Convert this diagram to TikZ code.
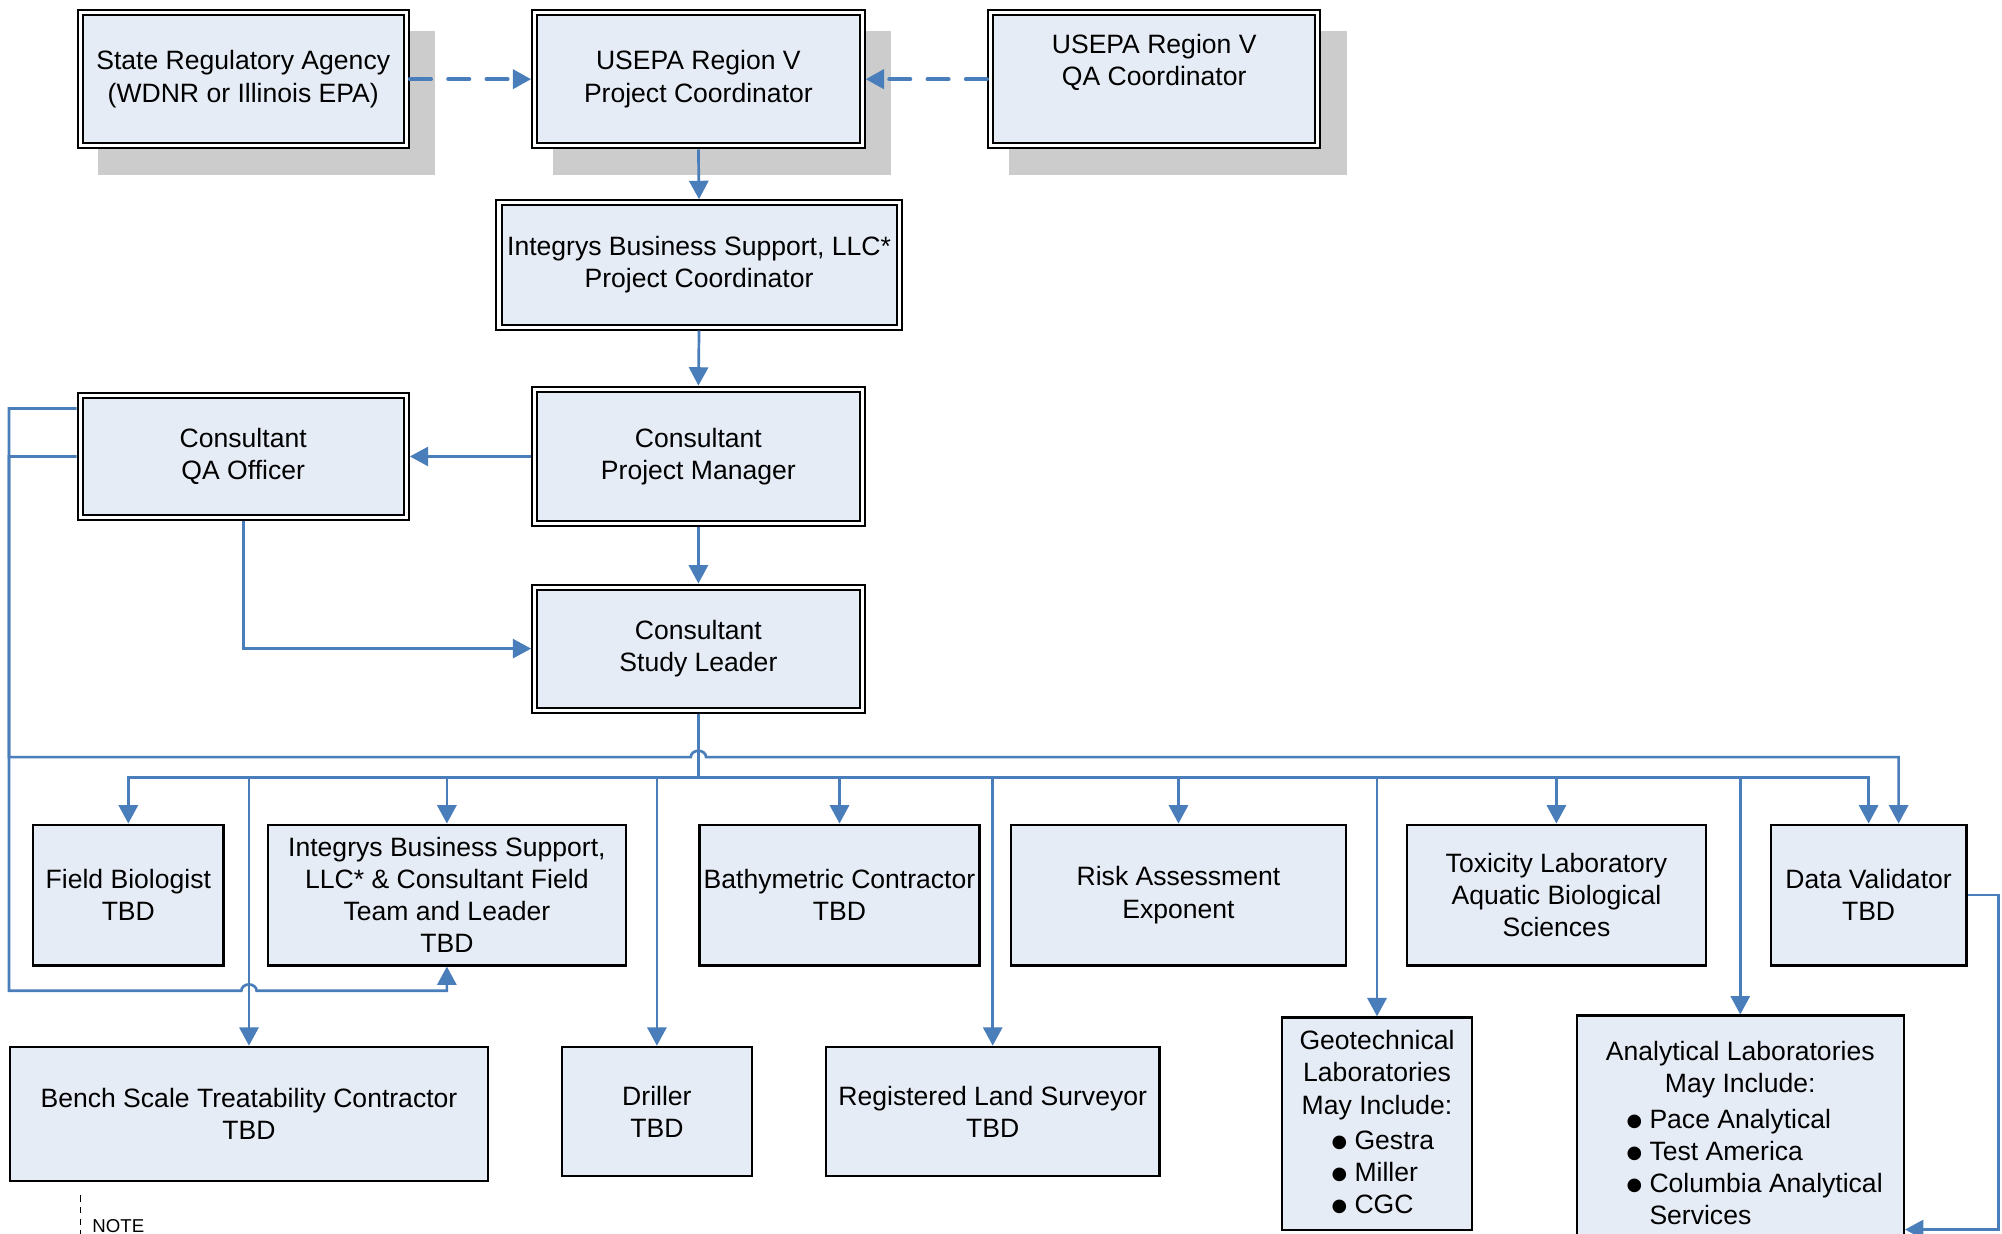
\documentclass[tikz,border=0pt]{standalone}
\usepackage{fontspec}
\setmainfont{Liberation Sans}
\newfontfamily\dejavu{DejaVu Sans}
\usetikzlibrary{arrows.meta,backgrounds}
\definecolor{lblue}{HTML}{4A7EBB}
\definecolor{boxfill}{HTML}{E6ECF6}
\definecolor{shadowgray}{HTML}{CCCCCC}
\newcommand\mainsize{\fontsize{10.4}{12.6}\selectfont}
\newcommand\bul{\makebox[9pt][l]{\raisebox{0.7pt}{\fontsize{7}{7}\selectfont\dejavu ●}}}
\begin{document}
\begin{tikzpicture}[
  x=0.5pt, y=-0.5pt,
  conn/.style={draw=lblue, line width=1.05pt, -{Triangle[length=7.2pt,width=7.5pt]}},
  dconn/.style={conn, line width=1.5pt, line cap=round, dash pattern=on 8.3pt off 6.7pt},
  dbox/.style={draw=black, line width=0.8pt, double=white, double distance=1.2pt,
    fill=boxfill, outer sep=1.4pt, inner sep=1pt, align=center, font=\mainsize},
  sbox/.style={draw=black, line width=0.9pt, fill=boxfill, inner sep=1pt,
    align=center, font=\mainsize},
  txt/.style={inner sep=0pt, align=center, font=\mainsize},
  shadowbox/.style={fill=shadowgray}
]
\useasboundingbox (0,0) rectangle (1568,966);

% top row
\node[dbox, minimum width=127.7pt, minimum height=52.2pt] (spc) at (190.5,62) {State Regulatory Agency\\(WDNR or Illinois EPA)};
\node[dbox, minimum width=128.2pt, minimum height=52.2pt] (epa) at (547,62) {USEPA Region V\\Project Coordinator};
\node[dbox, minimum width=128.2pt, minimum height=52.2pt] (qac) at (904,62) {};
\node[txt] (qact) at (904,49) {USEPA Region V\\QA Coordinator};

\node[dbox, minimum width=156.7pt, minimum height=48.7pt] (ibs) at (547.5,207.5) {Integrys Business Support, LLC*\\Project Coordinator};
\node[dbox, minimum width=128.2pt, minimum height=52.7pt] (cpm) at (547,357.5) {Consultant\\Project Manager};
\node[dbox, minimum width=127.7pt, minimum height=47.7pt] (cqa) at (190.5,357.5) {Consultant\\QA Officer};
\node[dbox, minimum width=128.2pt, minimum height=48.2pt] (csl) at (547,508) {Consultant\\Study Leader};

% first row of contractors
\node[sbox, minimum width=74.6pt, minimum height=55.1pt] (fb) at (100.5,701) {Field Biologist\\TBD};
\node[sbox, minimum width=140.1pt, minimum height=55.1pt] (ift) at (350,701) {Integrys Business Support,\\LLC* \& Consultant Field\\Team and Leader\\TBD};
\node[sbox, minimum width=109.6pt, minimum height=55.1pt] (bat) at (657.5,701) {Bathymetric Contractor\\TBD};
\node[sbox, minimum width=131.1pt, minimum height=55.1pt] (ra) at (923,701) {Risk Assessment\\Exponent};
\node[sbox, minimum width=117.1pt, minimum height=55.1pt] (tox) at (1219,701) {Toxicity Laboratory\\Aquatic Biological\\Sciences};
\node[sbox, minimum width=76.6pt, minimum height=55.1pt] (dv) at (1463.5,701) {Data Validator\\TBD};

% second row
\node[sbox, minimum width=187.1pt, minimum height=52.6pt] (bst) at (195,872.5) {Bench Scale Treatability Contractor\\TBD};
\node[sbox, minimum width=74.6pt, minimum height=50.6pt] (dr) at (514.5,870.5) {Driller\\TBD};
\node[sbox, minimum width=130.6pt, minimum height=50.6pt] (rls) at (777.5,870.5) {Registered Land Surveyor\\TBD};
\node[sbox, minimum width=74.6pt, minimum height=83.1pt] (geo) at (1078.5,880) {};
\node[txt] (geot) at (1078.5,842) {Geotechnical\\Laboratories\\May Include:};
\node[txt, anchor=west, align=left] (geol) at (1042.5,918) {\bul Gestra\\\bul Miller\\\bul CGC};
\node[sbox, minimum width=128.1pt, minimum height=92.1pt] (al) at (1363,887.5) {};
\node[txt] (alt) at (1363,837.5) {Analytical Laboratories\\May Include:};
\node[txt, anchor=west, align=left] (all) at (1273.5,914) {\bul Pace Analytical\\\bul Test America\\\bul Columbia Analytical\\\hspace*{9pt}Services};

% shadows and background
\begin{scope}[on background layer]
  \fill[white] (0,0) rectangle (1568,966);
  \foreach \n in {spc,epa,qac}
    \fill[shadowbox] ([shift={(17,17)}]\n.north west) rectangle ([shift={(20,20)}]\n.south east);
\end{scope}

% connectors
\draw[dconn] (spc.east) -- (epa.west);
\draw[dconn] (qac.west) -- (epa.east);
\draw[conn] (epa.south) -- (ibs.north);
\draw[conn] (ibs.south) -- (cpm.north);
\draw[conn] (cpm.west) -- (cqa.east);
\draw[conn] (cpm.south) -- (csl.north);
\draw[conn] (cqa.south) |- (csl.west);

\coordinate (bus) at (547,609);
\foreach \n in {fb,ift,bat,ra,tox,dv,bst,dr,rls,geo,al}
  \draw[conn] (csl.south) -- (bus) -| (\n.north);

% QA officer to data validator
\coordinate (a1) at (7,320);
\coordinate (a2) at (7,593);
\coordinate (h1) at (541,593);
\coordinate (a3) at (1487,593);
\draw[conn] (cqa.west |- a1) -- (a1) -- (a2) -- (h1)
  arc[start angle=180, end angle=360, x radius=6, y radius=5] -- (a3) -- (a3 |- dv.north);

% QA officer to field team
\coordinate (b1) at (7,357.5);
\coordinate (b2) at (7,776);
\coordinate (h2) at (189,776);
\coordinate (b3) at (350,776);
\draw[conn] (cqa.west) -- (b1) -- (b2) -- (h2)
  arc[start angle=180, end angle=360, x radius=6, y radius=5] -- (b3) -- (ift.south);

% data validator to analytical laboratories
\coordinate (rx) at (1565,963);
\draw[conn] (dv.east) -| (rx) -- (rx -| al.east);

% note
\coordinate (n1) at (63,936);
\coordinate (n2) at (63,975);
\draw[black, line width=0.6pt, dash pattern=on 2.6pt off 2pt] (n1) -- (n2);
\node[inner sep=0pt, anchor=base west, font=\fontsize{7.3}{8.5}\selectfont] (note) at (72,965) {NOTE};
\end{tikzpicture}
\end{document}
